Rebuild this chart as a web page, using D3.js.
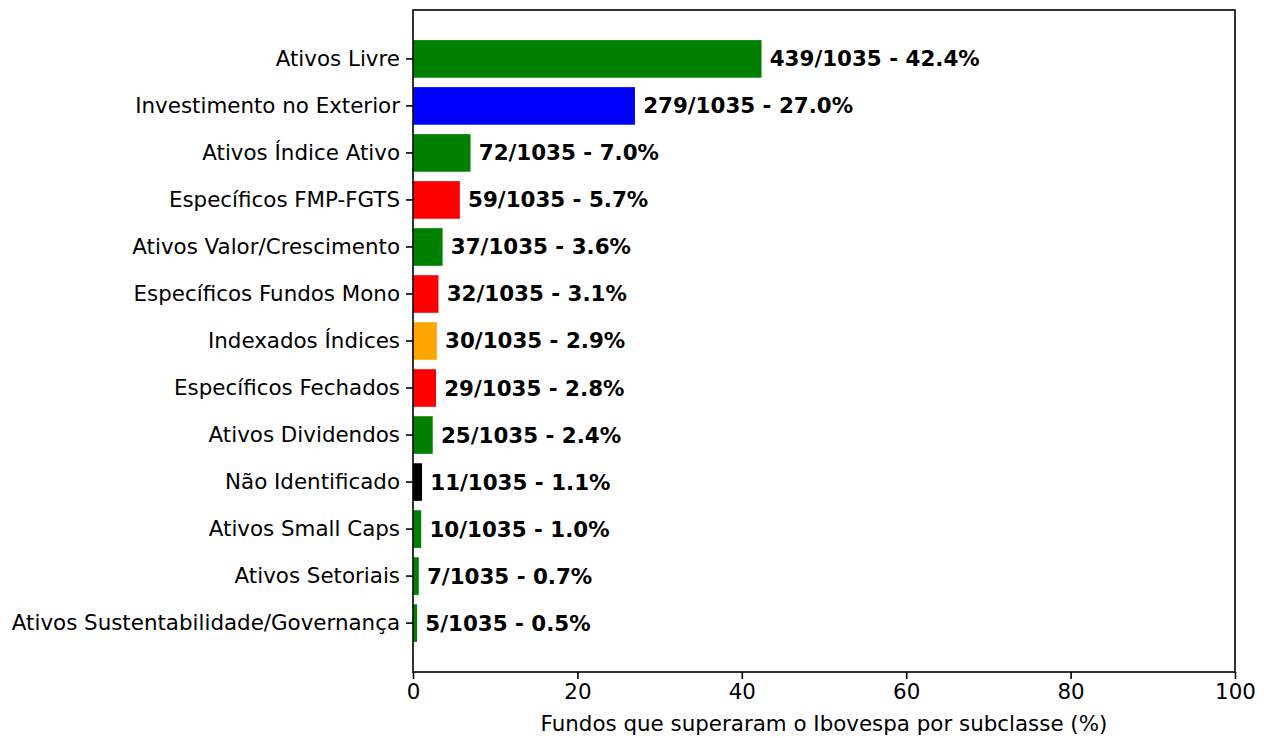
<!DOCTYPE html>
<html>
<head>
<meta charset="utf-8">
<script src="https://cdn.jsdelivr.net/npm/d3@7"></script>
<style>
  body { margin: 0; background: #fff; }
  svg text { font-family: "DejaVu Sans", sans-serif; }
</style>
</head>
<body>
<script>
// data
const subclasses = [
    "Ativos Livre", "Investimento no Exterior", "Ativos Índice Ativo", "Específicos FMP-FGTS",
    "Ativos Valor/Crescimento", "Específicos Fundos Mono", "Indexados Índices", "Específicos Fechados",
    "Ativos Dividendos", "Não Identificado", "Ativos Small Caps", "Ativos Setoriais",
    "Ativos Sustentabilidade/Governança"
]
const counts = [439, 279, 72, 59, 37, 32, 30, 29, 25, 11, 10, 7, 5]
const percents = [42.4, 27.0, 7.0, 5.7, 3.6, 3.1, 2.9, 2.8, 2.4, 1.1, 1.0, 0.7, 0.5]
const totalFunds = 1035
const barColors = ["green", "blue", "green", "red", "green", "red", "orange", "red",
    "green", "black", "green", "green", "green"]
const xTicks = [0, 20, 40, 60, 80, 100]

const margin = { top: 10, right: 36, bottom: 66, left: 413 }
    , width = 1271 - margin.left - margin.right
    , height = 738 - margin.top - margin.bottom

const fontSize = '21.4px'

const svg = d3.select('body').append('svg')
    .attr('width', 1271)
    .attr('height', 738)

const g = svg.append('g')
    .attr('transform', 'translate(' + margin.left + ',' + margin.top + ')')

const xScale = d3.scaleLinear()
    .domain([0, 100])
    .range([0, width])

// matplotlib barh: height 0.8, 5% margins
const yScale = d3.scaleBand()
    .domain(subclasses)
    .range([0, height])
    .paddingInner(0.2)
    .paddingOuter(0.64)

const rows = subclasses.map((s, i) => ({
    name: s, count: counts[i], pct: percents[i], color: barColors[i]
}))

// bars
g.selectAll('.bar').data(rows)
    .enter()
    .append('rect')
    .attr('x', xScale(0))
    .attr('y', d => yScale(d.name))
    .attr('width', d => xScale(d.pct) - xScale(0))
    .attr('height', yScale.bandwidth())
    .attr('fill', d => d.color)

// value labels
g.selectAll('.val').data(rows)
    .enter()
    .append('text')
    .attr('x', d => xScale(d.pct + 1))
    .attr('y', d => yScale(d.name) + yScale.bandwidth() / 2)
    .attr('dy', '0.35em')
    .style('font-size', fontSize)
    .style('font-weight', 'bold')
    .attr('fill', '#000')
    .text(d => d.count + '/' + totalFunds + ' - ' + d.pct.toFixed(1) + '%')

// axes
const xAxis = g.append('g')
    .attr('transform', 'translate(0,' + height + ')')
    .call(d3.axisBottom(xScale).tickValues(xTicks).tickSize(7).tickPadding(5))

const yAxis = g.append('g')
    .call(d3.axisLeft(yScale).tickSize(7).tickPadding(6))

;[xAxis, yAxis].forEach(a => {
    a.select('.domain').remove()
    a.selectAll('line').attr('stroke', '#000').attr('stroke-width', 1.6)
    a.selectAll('text').style('font-size', fontSize).attr('fill', '#000')
})

// frame
g.append('rect')
    .attr('width', width)
    .attr('height', height)
    .attr('fill', 'none')
    .attr('stroke', '#000')
    .attr('stroke-width', 1.6)

// x label
svg.append('text')
    .attr('text-anchor', 'middle')
    .attr('x', margin.left + width / 2)
    .attr('y', 731)
    .style('font-size', fontSize)
    .attr('fill', '#000')
    .text('Fundos que superaram o Ibovespa por subclasse (%)')
</script>
</body>
</html>
